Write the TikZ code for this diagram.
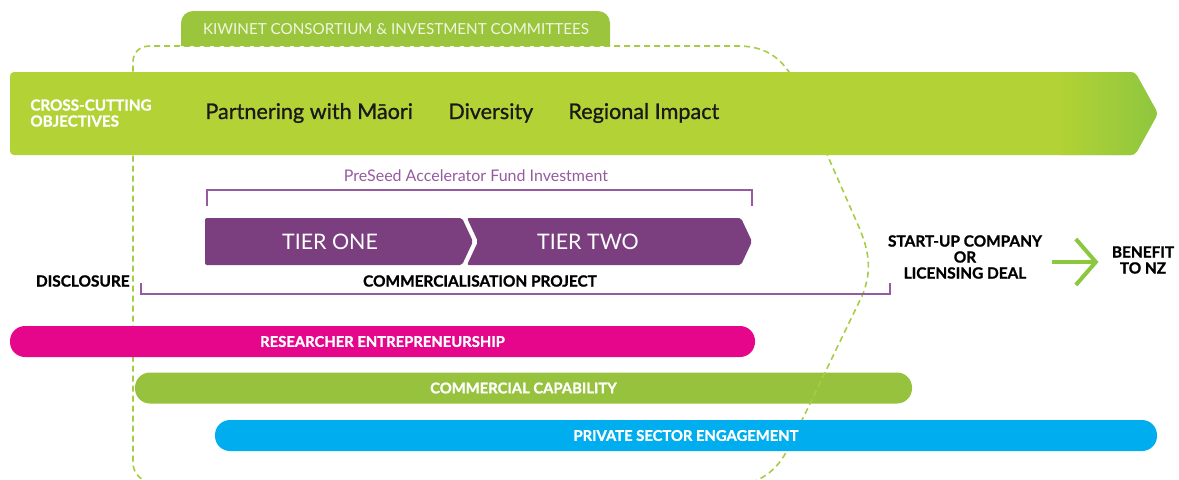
\documentclass[tikz,border=0pt]{standalone}
\usepackage{fontspec}
\setmainfont{Lato}
\newfontfamily\heavyfont[BoldFeatures={FakeBold=1.2}]{Lato}
\newfontfamily\mediumfont[FakeBold=0.9]{Lato}
\usetikzlibrary{arrows.meta}

\definecolor{kiwigreen}{HTML}{9BC53D}
\definecolor{bannergreen}{HTML}{B2D235}
\definecolor{darkgreen}{HTML}{8DC63F}
\definecolor{dashgreen}{HTML}{A5CD45}
\definecolor{tierpurple}{HTML}{7B3F80}
\definecolor{linepurple}{HTML}{955AA0}
\definecolor{rsmagenta}{HTML}{E5068C}
\definecolor{capgreen}{HTML}{97C23D}
\definecolor{psblue}{HTML}{00AEEF}

\tikzset{
  boldtext/.style={font=\heavyfont\bfseries\fontsize{7.7}{8}\selectfont, align=center, inner sep=0pt},
  objective/.style={font=\mediumfont\fontsize{10.8}{12}\selectfont, text=black!90, anchor=west, inner sep=0pt},
  tiertext/.style={font=\fontsize{10.7}{12}\selectfont, text=white, inner sep=0pt},
  bar/.style={rounded corners=7.5pt, minimum height=15.5pt, inner sep=0pt, text=white,
    font=\heavyfont\bfseries\fontsize{7.4}{8}\selectfont},
  bracket/.style={draw=linepurple, line width=0.6pt},
  outline/.style={draw=dashgreen, line width=0.8pt, dash pattern=on 3pt off 2pt},
  benefitarrow/.style={draw=darkgreen, line width=2pt, -{Straight Barb[length=10pt, width=23pt]}},
}

\begin{document}
\begin{tikzpicture}[x=0.5pt, y=-0.5pt]
\useasboundingbox (0,0) rectangle (1179,479);

\node[bar, fill=capgreen, minimum width=388.5pt] (capability) at (523.5,388) {COMMERCIAL CAPABILITY};

\draw[outline] (150,484) .. controls (138,478) and (133,472) .. (133,462) -- (133,62)
  .. controls (133,52) and (140,46) .. (150,46) -- (738,46)
  .. controls (768,46) and (785,60) .. (798,88) -- (858,225)
  .. controls (870,252) and (872,272) .. (862,296) -- (790,445)
  .. controls (780,465) and (770,476) .. (748,484);

\fill[kiwigreen] (181,46) [rounded corners=6pt] -- (181,11) -- (610,11) [sharp corners] -- (610,46) -- cycle;
\node[font=\fontsize{7.6}{9}\selectfont, text=white!85!kiwigreen, inner sep=0pt] (kiwinet) at (396,29) {KIWINET CONSORTIUM \& INVESTMENT COMMITTEES};

\fill[bannergreen, rounded corners=2pt] (10,72) -- (1135,72) -- (1158,113.5) -- (1135,155) -- (10,155) -- cycle;
\begin{scope}
\clip[rounded corners=2pt] (10,72) -- (1135,72) -- (1158,113.5) -- (1135,155) -- (10,155) -- cycle;
\shade[left color=bannergreen, right color=darkgreen] (1060,70) rectangle (1160,157);
\end{scope}

\node[boldtext, text=white, anchor=west, align=left, font=\heavyfont\bfseries\fontsize{7.6}{8}\selectfont] (crosscut) at (30,113) {CROSS-CUTTING\\OBJECTIVES};
\node[objective] (maori) at (205,113) {Partnering with Māori};
\node[objective] (diversity) at (448,113) {Diversity};
\node[objective] (regional) at (568,113) {Regional Impact};

\node[font=\fontsize{8}{9}\selectfont, text=linepurple, inner sep=0pt] (preseed) at (476,176) {PreSeed Accelerator Fund Investment};
\draw[bracket] (207,206) |- (752,190) -- (752,206);

\fill[tierpurple, rounded corners=1pt] (205,218) -- (462,218) -- (473,241.5) -- (462,265) -- (205,265) -- cycle;
\fill[tierpurple, rounded corners=1pt] (467,218) -- (741,218) -- (752,241.5) -- (741,265) -- (467,265) -- (478,241.5) -- cycle;
\node[tiertext] (tierone) at (330,241.5) {TIER ONE};
\node[tiertext] (tiertwo) at (588,241.5) {TIER TWO};

\node[boldtext, anchor=east] (disclosure) at (130,281) {DISCLOSURE};
\node[boldtext] (project) at (480,281) {COMMERCIALISATION PROJECT};
\draw[bracket] (141,283) |- (890,294) -- (890,283);

\node[boldtext] (deal) at (965,257) {START-UP COMPANY\\OR\\LICENSING DEAL};
\node[boldtext] (benefit) at (1143,260) {BENEFIT\\TO NZ};
\draw[benefitarrow, shorten <=5pt, shorten >=6.5pt] ([yshift=-2.5pt]deal.east) -- ([yshift=-2.5pt]deal.east -| benefit.west);

\node[bar, fill=rsmagenta, minimum width=372.5pt] (researcher) at (382.5,341.5) {RESEARCHER ENTREPRENEURSHIP};
\node[bar, fill=psblue, minimum width=471pt] (privsector) at (686,435.5) {PRIVATE SECTOR ENGAGEMENT};

\end{tikzpicture}
\end{document}
